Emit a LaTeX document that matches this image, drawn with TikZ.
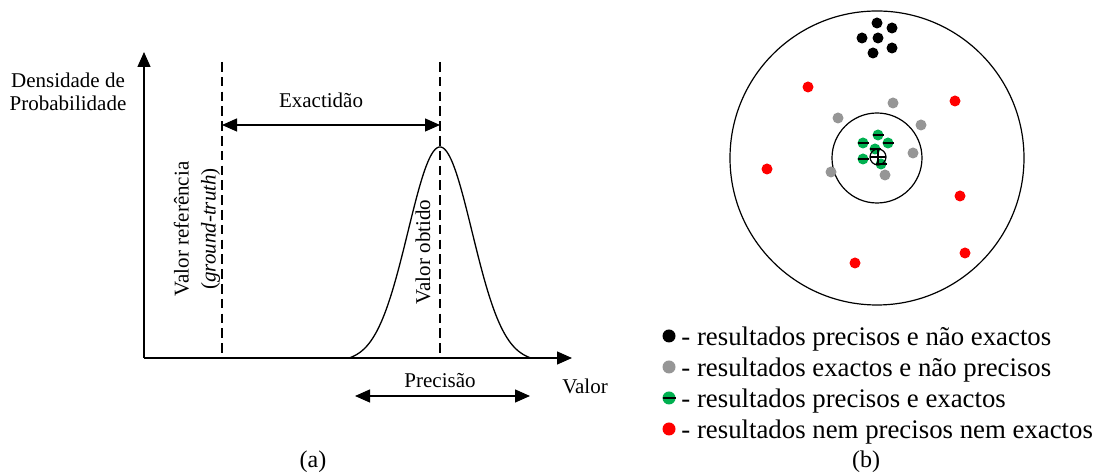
\documentclass[tikz,border=0pt]{standalone}
\usepackage{fontspec}
\setmainfont{Liberation Serif}
\usetikzlibrary{arrows.meta}

\definecolor{dotgray}{RGB}{150,150,150}
\definecolor{dotgreen}{RGB}{0,176,80}

\begin{document}
\begin{tikzpicture}[
  x=0.5pt, y=-0.5pt,
  lbl/.style={font=\fontsize{10.5}{11.5}\selectfont, align=center, inner sep=0pt},
  leg/.style={font=\fontsize{13.4}{15}\selectfont, anchor=base west, inner sep=0pt},
  axisarr/.style={draw, line width=0.65pt, -{Triangle[length=7.5pt,width=6.5pt]}},
  dimarr/.style={draw, line width=0.65pt,
                 {Triangle[length=7.5pt,width=6.5pt]}-{Triangle[length=7.5pt,width=6.5pt]}},
  guide/.style={draw, line width=0.65pt, dash pattern=on 4.8pt off 2.6pt},
  ring/.style={draw, line width=0.6pt},
  dotr/.store in=\dotr, dotr=5.5
]
\useasboundingbox (0,0) rectangle (1093,474);

% (a) distribution
\coordinate (org)  at (144,358);
\coordinate (ytip) at (144,52);
\coordinate (xtip) at (572,358);
\coordinate (reftop) at (222,62);
\coordinate (refbot) at (222,358);
\coordinate (obttop) at (440,62);
\coordinate (obtbot) at (440,358);
\coordinate (exl) at (222,125);
\coordinate (exr) at (440,125);
\coordinate (prl) at (355,396);
\coordinate (prr) at (530,396);

\draw[axisarr] (org) -- (ytip);
\draw[axisarr] (org) -- (xtip);
\draw[guide] (reftop) -- (refbot);
\draw[guide] (obttop) -- (obtbot);
\draw[dimarr] (exl) -- (exr);
\draw[dimarr] (prl) -- (prr);
% bell curve, tails pulled down to the axis
\draw[line width=0.65pt, domain=349:531, samples=140, smooth]
  plot (\x, {358-211*(exp(-((\x-440)^2)/(2*32^2))-exp(-(91^2)/(2*32^2)))/(1-exp(-(91^2)/(2*32^2)))});

\node[lbl] (dens) at (68,92)  {Densidade de\\Probabilidade};
\node[lbl] (exac) at (321,100) {Exactidão};
\node[lbl, font=\fontsize{10.5}{13.5}\selectfont, rotate=90] (vref) at (197,229)
  {Valor referência\\(\textit{ground-truth})};
\node[lbl, rotate=90] (vobt) at (423,252) {Valor obtido};
\node[lbl] (prec) at (440,381) {Precisão};
\node[lbl] (valr) at (585,386) {Valor};
\node[lbl, font=\fontsize{12}{14}\selectfont] (capa) at (313,462) {(a)};

% (b) target
\coordinate (ctr) at (877,158);
\draw[ring] (ctr) circle (147);
\draw[ring] (ctr) circle (45);

\foreach \p in {(877,23),(892,28),(862,38),(878,38),(892,48),(873,53)}
  \fill[black] \p circle (\dotr);
\foreach \p in {(893,103),(838,118),(921,125),(913,153),(831,172),(885,175)}
  \fill[dotgray] \p circle (\dotr);
\foreach \p in {(808,87),(955,101),(767,169),(960,196),(965,253),(855,263)}
  \fill[red] \p circle (\dotr);
\foreach \p in {(878,135),(863,143),(888,143),(875,149),(863,159),(881,164)}{
  \fill[dotgreen] \p circle (\dotr);
  \draw[line width=0.6pt] \p ++(-\dotr,0) -- ++(2*\dotr,0);
}
\draw[line width=0.6pt] (878,157) circle (8);
\draw[line width=0.6pt] (870,157) -- (886,157) (878,149) -- (878,165);

% legend
\fill[black]     (669,336) circle (6.5);
\fill[dotgray]   (669,367) circle (6.5);
\fill[dotgreen]  (669,398) circle (6.5);
\draw[line width=0.6pt] (662.5,398) -- (675.5,398);
\fill[red]       (669,429) circle (6.5);
\node[leg] (l1) at (681,346) {- resultados precisos e não exactos};
\node[leg] (l2) at (681,377) {- resultados exactos e não precisos};
\node[leg] (l3) at (681,408) {- resultados precisos e exactos};
\node[leg] (l4) at (681,439) {- resultados nem precisos nem exactos};
\node[lbl, font=\fontsize{12}{14}\selectfont] (capb) at (866,462) {(b)};
\end{tikzpicture}
\end{document}
